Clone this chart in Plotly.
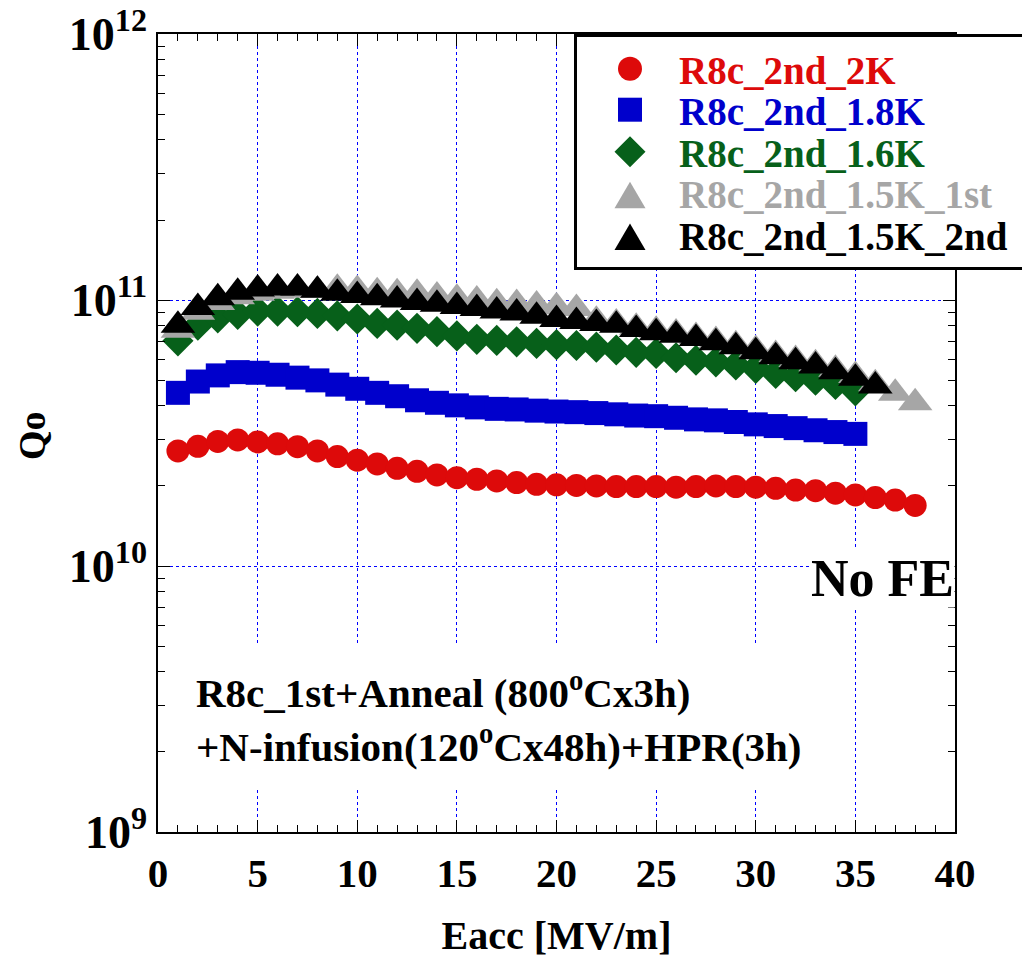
import plotly.graph_objects as go

# ---------------- data ----------------
eacc_2K = list(range(1, 39))
q0_2K = [2.71, 2.82, 2.94, 2.98, 2.93, 2.88, 2.81, 2.71, 2.58, 2.50,
         2.42, 2.33, 2.27, 2.20, 2.15, 2.12, 2.09, 2.06, 2.03, 2.02,
         2.01, 2.00, 1.99, 1.99, 1.99, 1.98, 1.99, 2.00, 1.99, 1.98,
         1.96, 1.93, 1.92, 1.88, 1.85, 1.81, 1.77, 1.69]

eacc_18K = list(range(1, 36))
q0_18K = [4.48, 4.94, 5.21, 5.36, 5.33, 5.24, 5.11, 4.99, 4.81, 4.64,
          4.48, 4.35, 4.20, 4.11, 4.02, 3.95, 3.90, 3.88, 3.84, 3.81,
          3.79, 3.76, 3.72, 3.68, 3.66, 3.61, 3.56, 3.53, 3.48, 3.41,
          3.36, 3.30, 3.24, 3.19, 3.14]

eacc_16K = list(range(1, 36))
q0_16K = [7.03, 8.05, 8.58, 8.84, 9.09, 9.09, 9.04, 8.91, 8.73, 8.49,
          8.17, 8.05, 7.83, 7.61, 7.33, 7.12, 7.05, 6.97, 6.87, 6.80,
          6.75, 6.65, 6.49, 6.36, 6.30, 6.07, 5.94, 5.86, 5.70, 5.54,
          5.30, 5.15, 5.00, 4.82, 4.56]

eacc_15K_1st = list(range(1, 39))
q0_15K_1st = [7.70, 9.00, 9.80, 10.3, 10.6, 10.8, 10.9, 10.9, 11.07, 10.97,
              10.74, 10.66, 10.60, 10.35, 10.15, 10.00, 9.77, 9.71, 9.58, 9.44,
              9.30, 8.40, 8.20, 7.90, 7.70, 7.52, 7.30, 7.05, 6.80, 6.52,
              6.25, 5.98, 5.76, 5.50, 5.20, 4.85, 4.46, 4.11]

eacc_15K_2nd = list(range(1, 37))
q0_15K_2nd = [8.05, 9.38, 10.2, 10.7, 11.0, 11.1, 11.1, 10.9, 10.6, 10.4,
              10.2, 10.0, 9.80, 9.65, 9.45, 9.30, 9.10, 8.95, 8.70, 8.45,
              8.30, 8.17, 8.05, 7.76, 7.54, 7.38, 7.17, 6.91, 6.67, 6.39,
              6.12, 5.86, 5.65, 5.38, 5.08, 4.75]

SCALE = 1e10
series_names = ["R8c_2nd_2K", "R8c_2nd_1.8K", "R8c_2nd_1.6K",
                "R8c_2nd_1.5K_1st", "R8c_2nd_1.5K_2nd"]
series_x = [eacc_2K, eacc_18K, eacc_16K, eacc_15K_1st, eacc_15K_2nd]
series_y = [q0_2K, q0_18K, q0_16K, q0_15K_1st, q0_15K_2nd]
colors = ["#dd0a0a", "#0000cc", "#07601a", "#a6a6a6", "#000000"]
symbols = ["circle", "square", "diamond", "triangle-up", "triangle-up"]
sizes = [23, 24, 24, 30, 30]

x_ticks = [0, 5, 10, 15, 20, 25, 30, 35, 40]
y_ticks = [1e9, 1e10, 1e11, 1e12]
y_ticktext = ["10<sup>9</sup>", "10<sup>10</sup>", "10<sup>11</sup>", "10<sup>12</sup>"]

# ---------------- layout geometry ----------------
W, H = 1022, 959
L, R, T, B = 158, 67, 34, 127
PW, PH = W - L - R, H - T - B


def px(xp):
    return (xp - L) / PW


def py(yp):
    return (H - B - yp) / PH


FONT = "Liberation Serif"

fig = go.Figure()
for name, xs, ys, c, s, sz in zip(series_names, series_x, series_y, colors, symbols, sizes):
    fig.add_trace(go.Scatter(
        x=xs, y=[v * SCALE for v in ys], mode="markers", name=name,
        marker=dict(symbol=s, size=sz, color=c, line=dict(width=0)),
        showlegend=False,
    ))

axis_common = dict(
    ticks="inside", ticklen=12, tickwidth=1, tickcolor="black",
    mirror="allticks", showline=True, linecolor="black", linewidth=1.5,
    showgrid=True, gridcolor="#0000ff", griddash="dot", gridwidth=1,
    zeroline=False,
)

fig.update_layout(
    width=W, height=H,
    margin=dict(l=L, r=R, t=T, b=B, autoexpand=False),
    paper_bgcolor="white", plot_bgcolor="white",
    showlegend=False,
    xaxis=dict(
        range=[0, 40], tickvals=x_ticks, ticktext=[str(v) for v in x_ticks],
        minor=dict(dtick=1, tick0=0, ticks="inside", ticklen=7, tickcolor="black", showgrid=False),
        tickfont=dict(family=FONT, size=41, color="black", weight="bold"),
        ticklabelstandoff=4,
        title=dict(text="Eacc [MV/m]", font=dict(family=FONT, size=40, color="black", weight="bold"), standoff=26),
        **axis_common,
    ),
    yaxis=dict(
        type="log", range=[9, 12.0005], tickvals=y_ticks, ticktext=y_ticktext,
        minor=dict(dtick="D1", ticks="inside", ticklen=7, tickcolor="black", showgrid=False),
        tickfont=dict(family=FONT, size=46, color="black", weight="bold"),
        ticklabelstandoff=0,
        **axis_common,
    ),
)

# ---------------- hand-built legend (large symbols like the reference) ----------------
shapes = [dict(type="rect", xref="paper", yref="paper",
               x0=px(575.5), x1=px(1045), y0=py(268.5), y1=py(35.5),
               line=dict(color="black", width=3), fillcolor="white", layer="above")]
cx = 630
rows = [68.7, 109.7, 151.7, 195.0, 236.7]
shapes.append(dict(type="circle", xref="paper", yref="paper", x0=px(cx - 12), x1=px(cx + 12),
                   y0=py(rows[0] + 12), y1=py(rows[0] - 12), line=dict(width=0),
                   fillcolor=colors[0], layer="above"))
shapes.append(dict(type="rect", xref="paper", yref="paper", x0=px(cx - 12), x1=px(cx + 12),
                   y0=py(rows[1] + 12), y1=py(rows[1] - 12), line=dict(width=0),
                   fillcolor=colors[1], layer="above"))
d = 15.5
shapes.append(dict(type="path", xref="paper", yref="paper",
                   path=(f"M{px(cx - d)},{py(rows[2])} L{px(cx)},{py(rows[2] - d)} "
                         f"L{px(cx + d)},{py(rows[2])} L{px(cx)},{py(rows[2] + d)} Z"),
                   line=dict(width=0), fillcolor=colors[2], layer="above"))
for k in (3, 4):
    yc = rows[k]
    shapes.append(dict(type="path", xref="paper", yref="paper",
                       path=(f"M{px(cx - 15.5)},{py(yc + 13.3)} L{px(cx + 15.5)},{py(yc + 13.3)} "
                             f"L{px(cx)},{py(yc - 13.3)} Z"),
                       line=dict(width=0), fillcolor=colors[k], layer="above"))

annotations = []
text_rows = [70, 111.7, 153.3, 195, 236.7]
for name, c, yr in zip(series_names, colors, text_rows):
    annotations.append(dict(xref="paper", yref="paper", x=px(676.7), y=py(yr),
                            xanchor="left", yanchor="middle", showarrow=False, text=name,
                            font=dict(family=FONT, size=39, color=c, weight="bold")))

# y-axis title
annotations.append(dict(xref="paper", yref="paper", x=px(32), y=py(436),
                        xanchor="center", yanchor="middle", showarrow=False, text="Qo",
                        textangle=-90,
                        font=dict(family=FONT, size=38, color="black", weight="bold")))

annotations.append(dict(xref="paper", yref="paper", x=px(955), y=py(578),
                        xanchor="right", yanchor="middle", showarrow=False, text="No FE",
                        bgcolor="white", borderpad=0,
                        font=dict(family=FONT, size=52, color="black", weight="bold")))
annotations.append(dict(xref="paper", yref="paper", x=px(177), y=py(717),
                        xanchor="left", yanchor="middle", showarrow=False, align="left",
                        text="R8c_1st+Anneal (800<sup>o</sup>Cx3h)<br>+N-infusion(120<sup>o</sup>Cx48h)+HPR(3h)",
                        bgcolor="white", borderpad=18,
                        font=dict(family=FONT, size=41, color="black", weight="bold")))

fig.update_layout(shapes=shapes, annotations=annotations)
fig.write_html("out.html")
